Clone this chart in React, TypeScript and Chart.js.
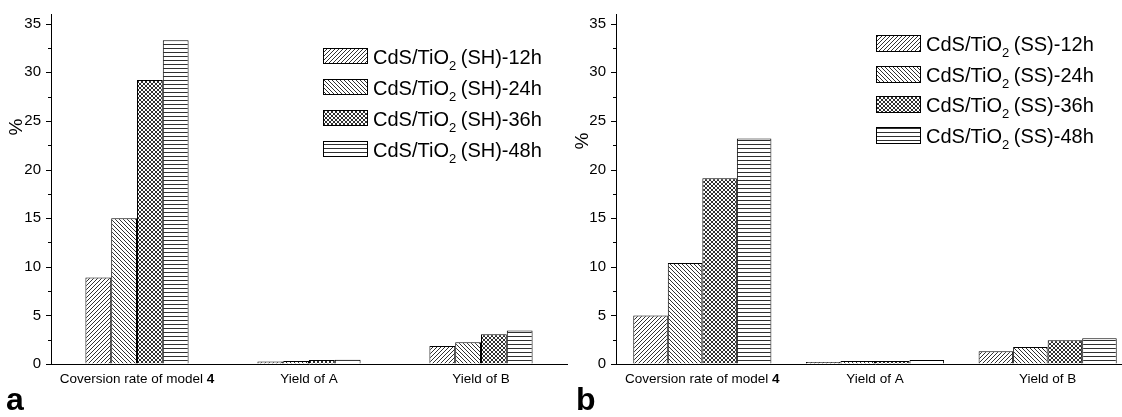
import { useEffect, useRef } from "react";
import { Chart, registerables } from "chart.js";

Chart.register(...registerables);

// Category groups along the x axis (the trailing part is drawn bold)
const categoryMain = ["Coversion rate of model ", "Yield of A", "Yield of B"];
const categoryBold = ["4", "", ""];
const categories = categoryMain.map((m, i) => m + categoryBold[i]);

// Panel a: CdS/TiO2 (SH), values in %
const sh12 = [8.9, 0.25, 1.85];
const sh24 = [15.0, 0.3, 2.25];
const sh36 = [29.2, 0.4, 3.05];
const sh48 = [33.3, 0.45, 3.45];
const shNames = [
  "CdS/TiO₂ (SH)-12h",
  "CdS/TiO₂ (SH)-24h",
  "CdS/TiO₂ (SH)-36h",
  "CdS/TiO₂ (SH)-48h",
];

// Panel b: CdS/TiO2 (SS), values in %
const ss12 = [5.0, 0.2, 1.3];
const ss24 = [10.4, 0.3, 1.75];
const ss36 = [19.1, 0.3, 2.45];
const ss48 = [23.2, 0.4, 2.65];
const ssNames = [
  "CdS/TiO₂ (SS)-12h",
  "CdS/TiO₂ (SS)-24h",
  "CdS/TiO₂ (SS)-36h",
  "CdS/TiO₂ (SS)-48h",
];

// Value axis
const yMin = 0;
const yMax = 36;
const yMajorTicks = [0, 5, 10, 15, 20, 25, 30, 35];
const yMinorTicks = [2.5, 7.5, 12.5, 17.5, 22.5, 27.5, 32.5];
const yTitle = "%";

const FONT = "'Liberation Sans', Arial, Helvetica, sans-serif";

type Fill = "fwd" | "back" | "cross" | "horiz";
const fills: Fill[] = ["fwd", "back", "cross", "horiz"];

function makePattern(kind: Fill): CanvasPattern {
  const tile = document.createElement("canvas");
  const size = 4;
  tile.width = kind === "horiz" ? 1 : size;
  tile.height = size;
  const c = tile.getContext("2d")!;
  c.fillStyle = "#ffffff";
  c.fillRect(0, 0, tile.width, tile.height);
  c.fillStyle = "#303030";
  for (let i = 0; i < size; i++) {
    if (kind === "fwd" || kind === "cross") c.fillRect(i, size - 1 - i, 1, 1);
    if (kind === "back" || kind === "cross") c.fillRect(i, i, 1, 1);
  }
  if (kind === "horiz") c.fillRect(0, 0, 1, 1);
  return c.createPattern(tile, "repeat")!;
}

interface PanelOpts {
  axisLeft: number;
  padRight: number;
  catPct: number;
  legendX: number;
  legendTops: number[];
  boxW: number;
  boxH: number;
  titleX: number;
  titleY: number;
  letter: string;
  letterX: number;
}

function drawLegendText(ctx: CanvasRenderingContext2D, text: string, x: number, baseline: number) {
  const parts = text.split("₂");
  ctx.font = `20px ${FONT}`;
  ctx.fillText(parts[0], x, baseline);
  let cx = x + ctx.measureText(parts[0]).width;
  ctx.font = `13px ${FONT}`;
  ctx.fillText("2", cx, baseline + 6);
  cx += ctx.measureText("2").width - 1;
  ctx.font = `20px ${FONT}`;
  ctx.fillText(parts[1] ?? "", cx, baseline);
}

function decorPlugin(opts: PanelOpts, names: string[], patterns: CanvasPattern[]) {
  return {
    id: "panelDecor",
    afterDraw(chart: any) {
      const ctx: CanvasRenderingContext2D = chart.ctx;
      const area = chart.chartArea;
      const y = chart.scales.y;
      const x = chart.scales.x;
      ctx.save();

      // tick marks on the value axis
      ctx.strokeStyle = "#000";
      ctx.lineWidth = 1;
      const tick = (v: number, len: number) => {
        const py = Math.round(y.getPixelForValue(v)) + 0.5;
        ctx.beginPath();
        ctx.moveTo(area.left - len, py);
        ctx.lineTo(area.left, py);
        ctx.stroke();
      };
      yMajorTicks.forEach((v) => tick(v, 5));
      yMinorTicks.forEach((v) => tick(v, 3));

      // category labels
      ctx.fillStyle = "#000";
      ctx.textBaseline = "alphabetic";
      ctx.textAlign = "left";
      categories.forEach((_, i) => {
        const cx = x.getPixelForValue(i);
        ctx.font = `13.5px ${FONT}`;
        const w1 = ctx.measureText(categoryMain[i]).width;
        ctx.font = `bold 13.5px ${FONT}`;
        const w2 = ctx.measureText(categoryBold[i]).width;
        const sx = cx - (w1 + w2) / 2;
        ctx.font = `13.5px ${FONT}`;
        ctx.fillText(categoryMain[i], sx, 383);
        ctx.font = `bold 13.5px ${FONT}`;
        ctx.fillText(categoryBold[i], sx + w1, 383);
      });

      // axis title
      ctx.save();
      ctx.translate(opts.titleX, opts.titleY);
      ctx.rotate(-Math.PI / 2);
      ctx.font = `19px ${FONT}`;
      ctx.textAlign = "center";
      ctx.textBaseline = "middle";
      ctx.fillText(yTitle, 0, 0);
      ctx.restore();

      // legend
      names.forEach((name, i) => {
        const top = opts.legendTops[i];
        ctx.fillStyle = patterns[i];
        ctx.fillRect(opts.legendX, top, opts.boxW, opts.boxH);
        ctx.strokeStyle = "#000";
        ctx.strokeRect(opts.legendX + 0.5, top + 0.5, opts.boxW - 1, opts.boxH - 1);
        ctx.fillStyle = "#000";
        ctx.textAlign = "left";
        drawLegendText(ctx, name, opts.legendX + opts.boxW + 5, top + opts.boxH / 2 + 7.5);
      });

      // panel letter
      ctx.font = `bold 32px ${FONT}`;
      ctx.fillStyle = "#000";
      ctx.textAlign = "left";
      ctx.fillText(opts.letter, opts.letterX, 410);

      ctx.restore();
    },
  };
}

function buildConfig(series: number[][], names: string[], patterns: CanvasPattern[], opts: PanelOpts): any {
  return {
    type: "bar",
    data: {
      labels: categories,
      datasets: series.map((d, i) => ({
        label: names[i],
        data: d,
        backgroundColor: patterns[i],
        borderColor: "#000",
        borderWidth: 1,
      })),
    },
    options: {
      responsive: false,
      animation: false,
      events: [],
      layout: { padding: { left: 0, top: 14, right: opts.padRight, bottom: 0 } },
      datasets: { bar: { categoryPercentage: opts.catPct, barPercentage: 1 } },
      plugins: {
        legend: { display: false },
        tooltip: { enabled: false },
        title: { display: false },
      },
      scales: {
        x: {
          grid: { display: false, drawTicks: false },
          border: { display: true, color: "#000", width: 1 },
          ticks: { display: false },
          afterFit: (s: any) => {
            s.height = 417 - 364;
          },
        },
        y: {
          min: yMin,
          max: yMax,
          // tick marks are drawn by the plugin; the invisible tick length only spaces the labels
          grid: {
            display: true,
            drawOnChartArea: false,
            drawTicks: true,
            tickLength: 10,
            color: "rgba(0,0,0,0)",
          },
          border: { display: true, color: "#000", width: 1 },
          ticks: {
            stepSize: 5,
            padding: 0,
            color: "#000",
            font: { family: FONT, size: 15 },
          },
          afterBuildTicks: (s: any) => {
            s.ticks = yMajorTicks.map((v) => ({ value: v }));
          },
          afterFit: (s: any) => {
            s.width = opts.axisLeft;
          },
        },
      },
    },
    plugins: [decorPlugin(opts, names, patterns)],
  };
}

export default function App() {
  const leftRef = useRef<HTMLCanvasElement>(null);
  const rightRef = useRef<HTMLCanvasElement>(null);

  useEffect(() => {
    const patterns = fills.map(makePattern);
    const left = new Chart(
      leftRef.current!,
      buildConfig([sh12, sh24, sh36, sh48], shNames, patterns, {
        axisLeft: 51,
        padRight: 3,
        catPct: 0.6,
        legendX: 323,
        legendTops: [48, 79, 110, 141],
        boxW: 45,
        boxH: 16,
        titleX: 17,
        titleY: 127,
        letter: "a",
        letterX: 6,
      })
    );
    const right = new Chart(
      rightRef.current!,
      buildConfig([ss12, ss24, ss36, ss48], ssNames, patterns, {
        axisLeft: 46,
        padRight: 36,
        catPct: 0.8,
        legendX: 306,
        legendTops: [35, 66, 96, 127],
        boxW: 45,
        boxH: 17,
        titleX: 13,
        titleY: 141,
        letter: "b",
        letterX: 6,
      })
    );
    return () => {
      left.destroy();
      right.destroy();
    };
  }, []);

  return (
    <div
      style={{
        position: "fixed",
        left: 0,
        top: 0,
        width: 1122,
        height: 417,
        overflow: "hidden",
        background: "#fff",
      }}
    >
      <canvas ref={leftRef} width={570} height={417} style={{ position: "absolute", left: 0, top: 0 }} />
      <canvas ref={rightRef} width={600} height={417} style={{ position: "absolute", left: 570, top: 0 }} />
    </div>
  );
}
